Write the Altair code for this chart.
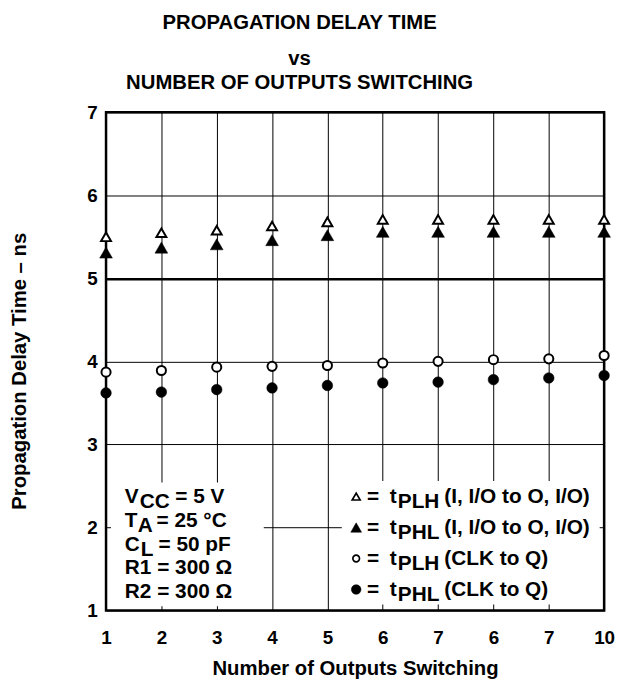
import json
import altair as alt
import pandas as pd

# ---------------- data ----------------
x_positions = [1, 2, 3, 4, 5, 6, 7, 8, 9, 10]
x_tick_labels = ["1", "2", "3", "4", "5", "6", "7", "6", "7", "10"]
y_ticks = [1, 2, 3, 4, 5, 6, 7]

tplh_io = [5.50, 5.55, 5.58, 5.63, 5.68, 5.71, 5.71, 5.71, 5.71, 5.71]
tphl_io = [5.31, 5.37, 5.41, 5.46, 5.52, 5.56, 5.56, 5.56, 5.56, 5.56]
tplh_clk = [3.87, 3.89, 3.93, 3.94, 3.95, 3.98, 4.00, 4.02, 4.03, 4.07]
tphl_clk = [3.62, 3.63, 3.66, 3.68, 3.71, 3.74, 3.75, 3.78, 3.80, 3.83]

title_lines = ["PROPAGATION DELAY TIME", "vs"]
subtitle_lines = ["NUMBER OF OUTPUTS SWITCHING"]
x_title = "Number of Outputs Switching"
y_title = "Propagation Delay Time \u2013 ns"

# conditions block: list of lines, each a list of (text, dx_px, is_subscript)
cond_lines = [
    [("V", 0, False), ("CC", 15, True), ("= 5 V", 51, False)],
    [("T", 0, False), ("A", 13, True), ("= 25 \u00b0C", 32, False)],
    [("C", 0, False), ("L", 16, True), ("= 50 pF", 34, False)],
    [("R1 = 300 \u03a9", 0, False)],
    [("R2 = 300 \u03a9", 0, False)],
]
legend_subs = ["PLH", "PHL", "PLH", "PHL"]
legend_rest = ["(I, I/O to O, I/O)", "(I, I/O to O, I/O)", "(CLK to Q)", "(CLK to Q)"]

# ---------------- layout / style ----------------
W, H = 503, 503
X_DOMAIN = [1, 10]
Y_DOMAIN = [1, 7]
PXX = W / (X_DOMAIN[1] - X_DOMAIN[0])
PXY = H / (Y_DOMAIN[1] - Y_DOMAIN[0])
FONT = "Liberation Sans, Arial, Helvetica, sans-serif"

xs = alt.Scale(domain=X_DOMAIN, nice=False, zero=False)
ys = alt.Scale(domain=Y_DOMAIN, nice=False, zero=False)

# series styles: (values, shape, filled, size, legend size)
SERIES = [
    (tplh_io, "triangle-up", False, 100, 65),
    (tphl_io, "triangle-up", True, 165, 120),
    (tplh_clk, "circle", False, 85, 45),
    (tphl_clk, "circle", True, 115, 95),
]

# white boxes behind the annotations (data units)
boxes = pd.DataFrame({
    "x": [1.09, 5.26], "x1": [3.85, 9.92],
    "y": [1.05, 1.07], "y1": [2.54, 2.56],
})

COND_X, COND_Y, COND_LH = 1.34, 2.288, 23.8
LEG_X, LEG_Y, LEG_LH = 5.52, 2.288, 31.3
SUB_DROP = 5
SYM_RAISE = 7

rows = []
for i, line in enumerate(cond_lines):
    for txt, dx, sub in line:
        rows.append({"x": COND_X + dx / PXX,
                     "y": COND_Y - (i * COND_LH + (SUB_DROP if sub else 0)) / PXY,
                     "t": txt})
for i in range(4):
    for txt, dx, sub in [("=", 11, False), ("t", 34, False),
                         (legend_subs[i], 42, True), (legend_rest[i], 89, False)]:
        rows.append({"x": LEG_X + dx / PXX,
                     "y": LEG_Y - (i * LEG_LH + (SUB_DROP if sub else 0)) / PXY,
                     "t": txt})
texts = pd.DataFrame(rows)

x_axis = alt.Axis(
    values=x_positions,
    labelExpr=json.dumps(x_tick_labels) + "[datum.value - 1]",
    grid=True, gridColor="black", gridWidth=1,
    ticks=False, tickSize=0, domain=False,
    labelFont=FONT, labelFontSize=19, labelFontWeight="bold", labelColor="black",
    labelPadding=18, labelFlush=False, labelOverlap=False,
    title=x_title, titleFont=FONT, titleFontSize=20.5, titleFontWeight="bold",
    titleColor="black", titlePadding=12,
)
y_axis = alt.Axis(
    values=y_ticks, format="d",
    grid=True, gridColor="black",
    gridWidth={"condition": {"test": "datum.value === 5", "value": 2.5}, "value": 1},
    ticks=False, tickSize=0, domain=False,
    labelFont=FONT, labelFontSize=19, labelFontWeight="bold", labelColor="black",
    labelPadding=9, labelFlush=False, labelOverlap=False,
    title=y_title, titleFont=FONT, titleFontSize=20.5, titleFontWeight="bold",
    titleColor="black", titlePadding=58, titleY=H / 2 + 9.5,
)

X = alt.X("x:Q", scale=xs, axis=x_axis)
Y = alt.Y("y:Q", scale=ys, axis=y_axis)

layers = []
layers.append(
    alt.Chart(boxes).mark_rect(fill="white", strokeWidth=0).encode(
        x=X, x2="x1:Q", y=Y, y2="y1:Q",
    )
)
for k, (vals, shape, filled, size, lsize) in enumerate(SERIES):
    df = pd.DataFrame({"x": x_positions, "y": vals})
    layers.append(
        alt.Chart(df).mark_point(
            shape=shape, filled=True, size=size, opacity=1,
            fill="black" if filled else "white", stroke="black",
            strokeWidth=0.5 if filled else 2,
        ).encode(x=X, y=Y)
    )
    sym = pd.DataFrame({"x": [LEG_X], "y": [LEG_Y - (k * LEG_LH - SYM_RAISE) / PXY]})
    layers.append(
        alt.Chart(sym).mark_point(
            shape=shape, filled=True, size=lsize, opacity=1,
            fill="black" if filled else "white", stroke="black",
            strokeWidth=0.5 if filled else 1.7,
        ).encode(x=X, y=Y)
    )
layers.append(
    alt.Chart(texts).mark_text(
        align="left", baseline="alphabetic", font=FONT, fontSize=21,
        fontWeight="bold", color="black",
    ).encode(x=X, y=Y, text="t:N")
)

chart = alt.layer(*layers).properties(
    width=W, height=H,
    autosize=alt.AutoSizeParams(type="none"),
    padding={"left": 99, "top": 102, "right": 12, "bottom": 72},
    title=alt.TitleParams(
        text=title_lines, subtitle=subtitle_lines,
        font=FONT, fontSize=20.5, fontWeight="bold", color="black", lineHeight=36,
        subtitleFont=FONT, subtitleFontSize=20.5, subtitleFontWeight="bold",
        subtitleColor="black", subtitlePadding=4, offset=10, anchor="middle", dx=-56,
    ),
).configure_view(stroke="black", strokeWidth=2.5)

chart.save("out.html", embed_options={"renderer": "svg", "actions": False})
